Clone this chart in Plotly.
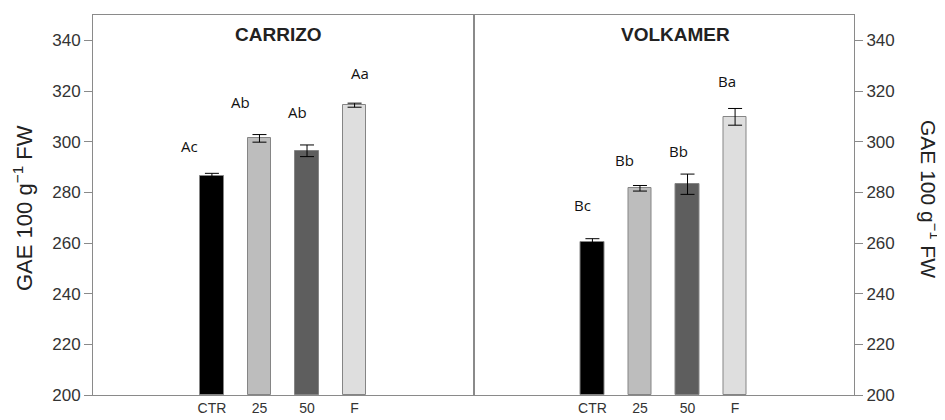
import plotly.graph_objects as go

categories = ["CTR", "25", "50", "F"]
carrizo_vals = [286.5, 301.3, 296.4, 314.4]
carrizo_err = [1.0, 1.5, 2.3, 0.8]
volkamer_vals = [260.5, 281.6, 283.2, 309.8]
volkamer_err = [1.2, 1.1, 4.0, 3.3]
carrizo_letters = ["Ac", "Ab", "Ab", "Aa"]
volkamer_letters = ["Bc", "Bb", "Bb", "Ba"]
panel_titles = ["CARRIZO", "VOLKAMER"]
y_ticks = [200, 220, 240, 260, 280, 300, 320, 340]
y_label = "GAE 100 g<sup>−1</sup> FW"

bar_colors = ["#000000", "#bdbdbd", "#5e5e5e", "#dedede"]
# label placement (data coords)
carrizo_lab_x = [-0.47, 0.60, 1.79, 3.12]
carrizo_lab_y = [298.1, 315.5, 311.9, 327.1]
volk_lab_x = [-0.21, 0.67, 1.80, 2.84]
volk_lab_y = [275.1, 292.9, 296.2, 324.1]

xpos = list(range(len(categories)))

fig = go.Figure()
for vals, errs, xa, ya in [(carrizo_vals, carrizo_err, "x", "y"),
                           (volkamer_vals, volkamer_err, "x2", "y2")]:
    fig.add_trace(go.Bar(
        x=xpos, y=[v - 200 for v in vals], base=200, width=0.5,
        marker=dict(color=bar_colors, line=dict(color="#858585", width=1)),
        error_y=dict(type="data", array=errs, color="#000000", thickness=1, width=7),
        xaxis=xa, yaxis=ya, showlegend=False,
    ))

axis_line = "#8a8a8a"
tickfont = dict(family="Liberation Sans, Arial, sans-serif", size=17, color="#333333")
xcommon = dict(range=[-2.5, 5.5], tickmode="array", tickvals=xpos, ticktext=categories,
               showline=True, linecolor=axis_line, linewidth=1, mirror=True,
               showgrid=False, zeroline=False, ticks="", automargin=False,
               tickfont=dict(family="Liberation Sans, Arial, sans-serif", size=14, color="#333333"))
ycommon = dict(range=[200, 350], tickmode="array", tickvals=y_ticks,
               showline=True, linecolor=axis_line, linewidth=1, mirror=True,
               showgrid=False, zeroline=False, ticks="outside", ticklen=8,
               tickcolor=axis_line, tickfont=tickfont, automargin=False)

# page body has an 8px margin, so the figure is sized/offset to compensate
fig.update_layout(
    width=937, height=412,
    margin=dict(l=85, r=91, t=7, b=25, autoexpand=False),
    paper_bgcolor="white", plot_bgcolor="white",
    xaxis=dict(domain=[0, 0.5], anchor="y", **xcommon),
    xaxis2=dict(domain=[0.5, 1], anchor="y2", **xcommon),
    yaxis=dict(anchor="x", side="left", **ycommon),
    yaxis2=dict(anchor="x2", side="right", **ycommon),
    bargap=0,
)

annots = []
lab_font = dict(family="Open Sans, Noto Sans, sans-serif", size=15, color="#111111")
for lx, ly, t in zip(carrizo_lab_x, carrizo_lab_y, carrizo_letters):
    annots.append(dict(x=lx, y=ly, xref="x", yref="y", text=t, showarrow=False, font=lab_font))
for lx, ly, t in zip(volk_lab_x, volk_lab_y, volkamer_letters):
    annots.append(dict(x=lx, y=ly, xref="x2", yref="y2", text=t, showarrow=False, font=lab_font))

title_font = dict(family="Liberation Sans, Arial, sans-serif", size=19, color="#222222")
annots.append(dict(x=1.4, y=342.5, xref="x", yref="y", text="<b>" + panel_titles[0] + "</b>",
                   showarrow=False, font=title_font))
annots.append(dict(x=1.75, y=342.5, xref="x2", yref="y2", text="<b>" + panel_titles[1] + "</b>",
                   showarrow=False, font=title_font))

ylab_font = dict(family="Liberation Sans, Arial, sans-serif", size=22, color="#222222")
annots.append(dict(x=0, y=0.5, xref="paper", yref="paper", xanchor="center", yanchor="middle",
                   xshift=-70, yshift=-3, text=y_label, textangle=-90, showarrow=False, font=ylab_font))
annots.append(dict(x=1, y=0.5, xref="paper", yref="paper", xanchor="center", yanchor="middle",
                   xshift=76, yshift=6, text=y_label, textangle=90, showarrow=False,
                   font=dict(family="Liberation Sans, Arial, sans-serif", size=21, color="#222222")))
fig.update_layout(annotations=annots)

fig.write_html("out.html")
